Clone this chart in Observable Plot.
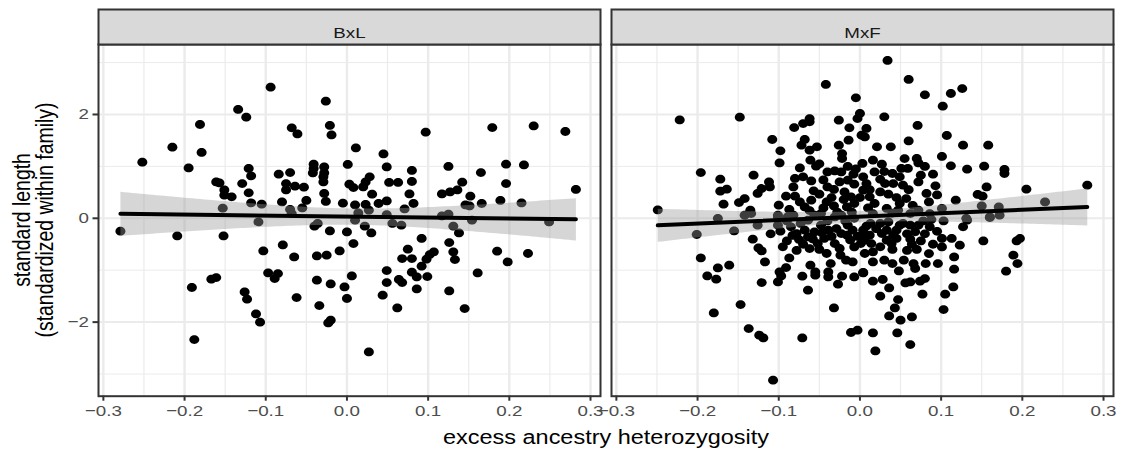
<!DOCTYPE html>
<html><head><meta charset="utf-8">
<script src="https://cdn.jsdelivr.net/npm/d3@7"></script>
<script src="https://cdn.jsdelivr.net/npm/@observablehq/plot@0.6"></script>
<style>
body{margin:0;background:#fff;}
#wrap{position:relative;width:1121px;height:456px;font-family:"Liberation Sans",Arial,Helvetica,sans-serif;overflow:hidden;}
#wrap svg{position:absolute;left:0;top:0;}
.t{position:absolute;white-space:nowrap;color:#000;font-size:19.4px;}
</style></head><body><div id="wrap"></div>
<script>
const facets = ["BxL", "MxF"];
// [excess ancestry heterozygosity, standard length]
const bxlPoints = [
[-0.094,2.526],[-0.026,2.256],[-0.134,2.096],[-0.124,1.948],[-0.181,1.807],[-0.215,1.370],[-0.252,1.081],[-0.179,1.268],[-0.195,0.971],[-0.068,1.742],
[-0.061,1.626],[-0.021,1.788],[-0.019,1.607],[0.011,1.356],[-0.121,0.960],[-0.118,0.817],[-0.161,0.701],[-0.157,0.682],[-0.151,0.547],[-0.151,0.445],
[-0.142,0.413],[-0.129,0.670],[-0.121,0.490],[-0.118,0.297],[-0.105,0.272],[-0.153,0.195],[-0.084,0.850],[-0.070,0.882],[-0.075,0.670],[-0.075,0.547],
[-0.064,0.618],[-0.053,0.599],[-0.041,1.042],[-0.041,0.960],[-0.042,0.875],[-0.028,0.990],[-0.028,0.875],[-0.029,0.798],[-0.029,0.701],[-0.028,0.478],
[-0.026,0.324],[-0.050,0.343],[-0.055,0.200],[-0.080,0.316],[-0.070,0.170],[-0.068,0.092],[0.001,1.037],[0.003,0.657],[0.008,0.593],[-0.005,0.291],
[0.010,0.258],
[-0.279,-0.249],[-0.209,-0.339],[-0.152,-0.339],[-0.109,-0.069],[-0.103,-0.628],[-0.079,-0.512],[-0.065,-0.744],[-0.037,-0.724],[-0.025,-0.711],[-0.009,-0.628],
[-0.040,-0.152],[-0.036,-0.100],[-0.021,-0.243],[0.000,-0.262],[0.008,-0.486],[-0.191,-1.333],[-0.167,-1.173],[-0.161,-1.141],[-0.188,-2.335],[-0.126,-1.418],
[-0.123,-1.559],[-0.112,-1.842],[-0.107,-2.002],[-0.097,-1.052],[-0.085,-1.064],[-0.089,-1.160],[-0.062,-1.526],[-0.037,-1.193],[-0.020,-1.264],[-0.003,-1.322],
[0.000,-1.545],[-0.034,-1.681],[-0.023,-2.015],[-0.020,-1.963],[0.006,-1.110],
[0.045,1.241],[0.049,0.990],[0.097,1.659],[0.179,1.749],[0.230,1.780],[0.269,1.672],[0.282,0.555],[0.125,0.998],[0.080,0.921],[0.080,0.709],
[0.052,0.690],[0.063,0.690],[0.028,0.798],[0.023,0.701],[0.020,0.605],[0.031,0.464],[0.023,0.266],[0.039,0.285],[0.049,0.335],[0.077,0.470],
[0.082,0.285],[0.071,0.181],[0.049,0.073],[0.117,0.470],[0.127,0.509],[0.136,0.547],[0.142,0.696],[0.152,0.426],[0.146,0.258],[0.151,0.239],
[0.166,0.285],[0.165,0.882],[0.196,1.042],[0.218,1.029],[0.196,0.670],[0.189,0.343],[0.215,0.297],[0.125,0.079],[0.117,0.046],[0.014,0.104],
[0.027,0.156],
[0.022,-0.152],[0.030,-0.281],[0.010,-0.037],[0.056,-0.100],[0.067,-0.133],[0.092,-0.389],[0.075,-0.595],[0.068,-0.775],[0.080,-0.775],[0.049,-1.006],
[0.049,-1.237],[0.064,-1.179],[0.068,-1.237],[0.080,-1.039],[0.086,-1.129],[0.092,-0.923],[0.098,-0.788],[0.102,-0.698],[0.107,-0.647],[0.099,-1.122],
[0.086,-1.360],[0.044,-1.482],[0.062,-1.726],[0.027,-2.574],[0.126,-0.467],[0.131,-0.647],[0.133,-0.794],[0.138,-0.281],[0.131,-0.152],[0.154,-0.037],
[0.161,-1.052],[0.126,-1.399],[0.145,-1.738],[0.185,-0.634],[0.198,-0.840],[0.223,-0.678],[0.249,-0.069]
];
const mxfPoints = [
[-0.042,2.578],[-0.005,2.320],[-0.222,1.896],[-0.148,1.948],[-0.196,0.882],[-0.249,0.162],[-0.172,0.753],[-0.164,0.561],[-0.172,0.522],[-0.168,0.272],
[-0.131,0.830],[-0.149,0.304],[-0.142,0.381],[-0.135,0.156],[-0.126,0.478],[-0.121,0.574],[-0.112,0.701],[-0.111,0.605],[-0.108,1.518],[-0.098,1.299],
[-0.099,1.067],[-0.100,0.252],[-0.081,1.749],[-0.070,1.826],[-0.062,1.922],[-0.062,1.858],[-0.068,1.518],[-0.072,1.408],[-0.062,1.312],[-0.053,1.376],
[-0.074,0.971],[-0.061,1.119],[-0.054,1.004],[-0.080,0.767],[-0.070,0.798],[-0.082,0.605],[-0.091,0.426],[-0.080,0.426],[-0.074,0.316],[-0.068,0.220],
[-0.087,0.170],[-0.057,0.530],[-0.050,0.464],[-0.040,0.894],[-0.031,0.913],[-0.023,0.894],[-0.040,0.605],[-0.032,0.555],[-0.041,0.316],[-0.032,0.239],
[-0.048,0.092],[-0.026,1.890],[-0.013,1.742],[-0.014,1.505],[-0.026,1.408],[-0.022,1.248],[-0.022,1.152],[-0.003,1.922],[0.000,2.019],[0.002,1.601],
[0.003,1.056],[-0.015,0.734],[-0.007,0.657],[-0.019,0.509],[-0.011,0.413],[-0.007,0.285],[-0.016,0.220],[0.004,0.798],[0.004,0.541],[-0.175,0.000],
[-0.142,0.060],[-0.101,0.060],[-0.089,0.027],[-0.056,0.060],[-0.023,0.060],
[0.034,3.040],[0.060,2.674],[0.080,2.378],[0.112,2.404],[0.126,2.500],[0.102,2.160],[0.030,1.954],[0.071,1.788],[0.107,1.595],[0.127,1.408],
[0.158,1.408],[0.060,1.491],[0.038,1.376],[0.021,1.376],[0.101,1.191],[0.112,1.010],[0.132,0.946],[0.153,1.004],[0.178,0.940],[0.178,0.863],
[0.156,0.605],[0.145,0.459],[0.151,0.426],[0.205,0.561],[0.280,0.638],[0.228,0.316],[0.118,0.349],[0.093,0.625],[0.082,0.478],[0.085,0.316],
[0.070,1.152],[0.072,1.067],[0.075,0.830],[0.072,0.701],[0.059,0.960],[0.051,0.960],[0.040,0.863],[0.049,0.798],[0.053,0.638],[0.041,0.670],
[0.031,0.670],[0.025,0.509],[0.035,0.464],[0.016,1.119],[0.027,1.042],[0.018,0.894],[0.008,1.730],[0.006,1.568],[0.057,0.381],[0.049,0.285],
[0.018,0.285],[0.012,0.413],[0.008,0.670],[0.101,0.189],[0.150,0.239],[0.171,0.220],[0.172,0.060],[0.160,0.027],[0.131,0.000],[0.072,0.156],
[0.062,0.092],[0.016,0.092],[0.033,0.189],[0.047,0.156],[0.086,0.092],
[-0.201,-0.312],[-0.155,-0.243],[-0.134,0.092],[-0.132,-0.403],[-0.125,-0.570],[-0.121,-0.628],[-0.117,-0.840],[-0.196,-0.763],[-0.188,-1.110],[-0.175,-0.956],
[-0.177,-1.173],[-0.161,-0.904],[-0.180,-1.823],[-0.147,-1.661],[-0.137,-2.123],[-0.124,-2.252],[-0.119,-2.304],[-0.107,-3.119],[-0.121,-1.237],[-0.101,-1.225],
[-0.097,-1.110],[-0.099,-1.033],[-0.091,-0.948],[-0.087,-0.763],[-0.071,-1.116],[-0.064,-1.385],[-0.061,-0.904],[-0.055,-1.033],[-0.055,-1.096],[-0.039,-1.033],
[-0.039,-1.129],[-0.027,-1.270],[-0.022,-1.116],[-0.007,-1.129],[-0.036,-0.871],[-0.024,-0.711],[-0.017,-0.807],[-0.009,-0.840],[-0.032,-1.726],[-0.071,-2.304],
[-0.011,-2.200],[-0.003,-2.156],[0.004,-1.044],[-0.098,-0.249],[-0.090,-0.435],[-0.078,-0.293],[-0.075,-0.409],[-0.064,-0.358],[-0.062,-0.582],[-0.052,-0.486],
[-0.044,-0.389],[-0.041,-0.678],[-0.031,-0.486],[-0.023,-0.293],[-0.016,-0.326],[-0.009,-0.229],[0.001,-0.486],[0.006,-0.422],[-0.007,-0.551],[-0.068,-0.229],
[-0.056,-0.262],[-0.039,-0.229],[-0.029,-0.197],[-0.101,-0.133],[-0.085,-0.165],[-0.048,-0.133],[-0.015,-0.133],[0.004,-0.229],[0.006,-0.678],[-0.101,0.027],
[-0.082,0.060],[-0.064,-0.037],[-0.031,0.027],[-0.007,0.000],[-0.126,-0.133],
[0.013,-0.100],[0.035,-0.069],[0.049,-0.133],[0.062,-0.133],[0.072,-0.133],[0.086,-0.165],[0.088,-0.024],[0.103,-0.050],[0.127,-0.165],[0.132,-0.037],
[0.160,0.015],[0.152,-0.435],[0.193,-0.435],[0.197,-0.389],[0.189,-0.711],[0.194,-0.871],[0.180,-1.019],[0.123,-0.518],[0.116,-0.744],[0.116,-0.981],
[0.115,-1.322],[0.105,-1.462],[0.103,-1.757],[0.101,-0.389],[0.101,-0.551],[0.113,-0.389],[0.096,-0.871],[0.081,-0.871],[0.075,-0.435],[0.064,-0.499],
[0.080,-1.160],[0.074,-1.212],[0.077,-1.462],[0.062,-1.225],[0.056,-1.244],[0.066,-0.871],[0.068,-0.967],[0.054,-0.807],[0.048,-1.013],[0.040,-0.871],
[0.030,-0.807],[0.016,-0.840],[0.004,-1.052],[0.016,-1.212],[0.028,-1.179],[0.036,-1.341],[0.025,-1.501],[0.047,-1.565],[0.043,-1.726],[0.036,-1.881],
[0.050,-1.963],[0.064,-1.900],[0.046,-2.208],[0.062,-2.432],[0.016,-2.208],[0.019,-2.555],[0.012,-0.326],[0.014,-0.486],[0.016,-0.647],[0.027,-0.293],
[0.033,-0.422],[0.041,-0.326],[0.039,-0.486],[0.045,-0.389],[0.004,-0.293],[0.053,-0.100],[0.033,-0.229],[0.025,-0.100],
[-0.060,0.720],[-0.045,0.740],[-0.025,0.700],[-0.005,0.950],[-0.035,0.400],[-0.060,0.350],[-0.020,0.360],[-0.045,0.200],[-0.010,0.120],[0.000,0.400],
[-0.028,0.120],[-0.062,0.150],[-0.008,0.850],[-0.050,1.050],[-0.015,1.000],
[-0.095,-0.550],[-0.083,-0.330],[-0.070,-0.500],[-0.058,-0.400],[-0.047,-0.280],[-0.035,-0.350],[-0.025,-0.580],[-0.012,-0.420],[-0.003,-0.350],[-0.078,-0.620],
[-0.050,-0.600],[-0.018,-0.050],[-0.040,-0.050],[-0.073,-0.100],[-0.090,-0.050],[-0.110,-0.300],
[0.020,-0.200],[0.045,-0.230],[0.058,-0.300],[0.068,-0.260],[0.080,-0.300],[0.090,-0.500],[0.058,-0.620],[0.070,-0.600],[0.085,-0.680],[0.025,-0.550],
[0.008,-0.150],[0.062,-0.400],[0.095,-0.250],[0.040,-0.600],[0.078,-0.050],
[0.010,0.200],[0.025,0.750],[0.045,0.400],[0.060,0.550],[0.065,0.250],[0.090,0.850],[0.080,1.000],[0.030,0.900],[0.012,0.550],[0.055,1.150],
[0.095,0.450],[0.040,0.100]
];
const xTicks = [-0.3, -0.2, -0.1, 0, 0.1, 0.2, 0.3];
const xMinor = [-0.25, -0.15, -0.05, 0.05, 0.15, 0.25];
const yTicks = [-2, 0, 2];
const yMinor = [-3, -1, 1, 3];
const xTitle = "excess ancestry heterozygosity";
const yTitle = ["standard length", "(standardized within family)"];

const data = [
  ...bxlPoints.map(([x, y]) => ({facet: "BxL", x, y})),
  ...mxfPoints.map(([x, y]) => ({facet: "MxF", x, y}))
];

const W = 1121, H = 456;
const mL = 97.7, mR = 7.6, mT = 44, mB = 60.3;
const frameH = H - mT - mB;
const K = 1.21; // horizontal stretch of the reference rendering
const font = "Liberation Sans, Arial, Helvetica, sans-serif";

// slightly wide dot, as in the reference
const wideDot = {
  draw(ctx, size) {
    const r = Math.sqrt(size / Math.PI);
    const rx = r * 1.08, ry = r / 1.05, k = 0.5523;
    ctx.moveTo(rx, 0);
    ctx.bezierCurveTo(rx, k * ry, k * rx, ry, 0, ry);
    ctx.bezierCurveTo(-k * rx, ry, -rx, k * ry, -rx, 0);
    ctx.bezierCurveTo(-rx, -k * ry, -k * rx, -ry, 0, -ry);
    ctx.bezierCurveTo(k * rx, -ry, rx, -k * ry, rx, 0);
    ctx.closePath();
  }
};

const chart = Plot.plot({
  width: W, height: H,
  marginLeft: mL, marginRight: mR, marginTop: mT, marginBottom: mB,
  style: {fontFamily: font, background: "white", overflow: "visible"},
  fx: {domain: facets, paddingInner: 0.02124, paddingOuter: 0, axis: null},
  x: {domain: [-0.306, 0.3123]},
  y: {domain: [-3.427, 3.348]},
  marks: [
    Plot.ruleX(xMinor, {stroke: "#ebebeb", strokeWidth: 1.2}),
    Plot.ruleY(yMinor, {stroke: "#ebebeb", strokeWidth: 1}),
    Plot.ruleX(xTicks, {stroke: "#ebebeb", strokeWidth: 2.4}),
    Plot.ruleY(yTicks, {stroke: "#ebebeb", strokeWidth: 2}),
    Plot.dot(data, {x: "x", y: "y", fx: "facet", r: 4.6, symbol: wideDot, fill: "black", stroke: null}),
    Plot.linearRegressionY(data, {x: "x", y: "y", fx: "facet", stroke: "black", strokeWidth: 4, fill: "#999999", fillOpacity: 0.4, ci: 0.95}),
    Plot.frame({stroke: "#333333", strokeWidth: 2}),
    Plot.frame({fill: "#d9d9d9", stroke: "#333333", strokeWidth: 2, insetTop: -35, insetBottom: frameH}),
    Plot.text(facets, {fx: d => d, text: d => d, frameAnchor: "top", dy: -17.5, fontSize: 15.5, fill: "#1a1a1a"}),
    Plot.axisX({ticks: xTicks, tickFormat: d3.format(".1f"), tickSize: 5, tickPadding: 4, fontSize: 15.5, fill: "#4d4d4d", stroke: "#333333", strokeWidth: 2, label: null}),
    Plot.axisY({ticks: yTicks, tickFormat: d3.format("d"), tickSize: 5.5, tickPadding: 4, fontSize: 15.5, fill: "#4d4d4d", stroke: "#333333", strokeWidth: 2, label: null})
  ]
});

const wrap = document.getElementById("wrap");
wrap.appendChild(chart);

// stretch SVG text horizontally about its anchor point
chart.querySelectorAll("text").forEach(t => {
  const bb = t.getBBox();
  const anchor = getComputedStyle(t).textAnchor;
  const cx = anchor === "end" ? bb.x + bb.width : anchor === "start" ? bb.x : bb.x + bb.width / 2;
  const tr = t.getAttribute("transform") || "";
  t.setAttribute("transform", `${tr} translate(${cx},0) scale(${K},1) translate(${-cx},0)`);
});

const xt = document.createElement("div");
xt.className = "t";
xt.textContent = xTitle;
xt.style.left = ((mL + W - mR) / 2) + "px";
xt.style.top = "437px";
xt.style.transform = `translate(-50%,-50%) scaleX(${K})`;
wrap.appendChild(xt);

const yt = document.createElement("div");
yt.className = "t";
yt.style.left = "33.5px";
yt.style.top = (mT + frameH / 2) + "px";
yt.style.transform = `translate(-50%,-50%) scaleX(${K}) rotate(-90deg)`;
yt.style.textAlign = "center";
yt.style.lineHeight = "19px";
yt.innerHTML = yTitle.map(s => `<div>${s}</div>`).join("");
wrap.appendChild(yt);
</script></body></html>
